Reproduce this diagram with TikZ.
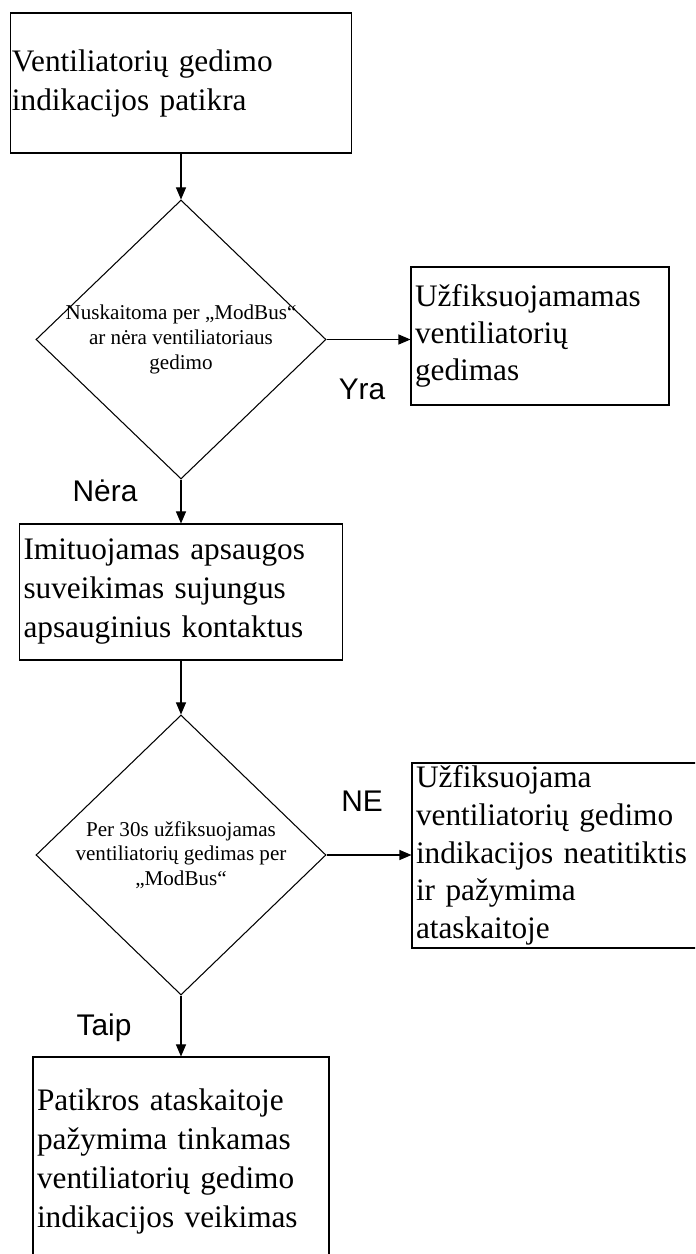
\documentclass[tikz,border=0pt]{standalone}
\usepackage{fontspec}
\setmainfont{Liberation Serif}
\newfontfamily\lsans{Liberation Sans}
\usetikzlibrary{arrows.meta,shapes.geometric}

\begin{document}
\begin{tikzpicture}[>={Triangle[length=0.24cm, width=0.2cm]}, line width=0.6pt,
    box/.style={draw, align=left, inner xsep=0.08cm, inner ysep=0pt,
        font=\fontsize{17.8}{22.2}\selectfont},
    cond/.style={draw, diamond, inner sep=0pt, minimum width=5.8cm, minimum height=5.58cm},
    condtext/.style={align=center, inner sep=0pt, font=\fontsize{12}{14}\selectfont},
    answer/.style={anchor=base, inner sep=0pt, font=\lsans\fontsize{17}{20}\selectfont}]

    % 画布
    \useasboundingbox (0, 0) rectangle (13.9, 25.08);
    \clip (0, 0) rectangle (13.9, 25.08);

    % 开始框
    \node[box, text width=6.76cm, inner xsep=0.03cm, minimum height=2.8cm] (start) at (3.62, 23.42)
        {Ventiliatorių gedimo\\indikacijos patikra};

    % 第一个判断
    \node[cond] (check1) at (3.62, 18.29) {};
    \node[condtext] (check1txt) at (check1) {Nuskaitoma per „ModBus“\\ar nėra ventiliatoriaus\\gedimo};
    \node[box, text width=5cm, minimum height=2.76cm, font=\fontsize{17.8}{21}\selectfont] (fault) at (10.8, 18.36)
        {Užfiksuojamamas\\ventiliatorių\\gedimas};

    % 模拟
    \node[box, text width=6.3cm, minimum height=2.72cm] (imit) at (3.62, 13.24)
        {Imituojamas apsaugos\\suveikimas sujungus\\apsauginius kontaktus};

    % 第二个判断
    \node[cond, minimum height=5.6cm] (check2) at (3.62, 7.98) {};
    \node[condtext] (check2txt) at (check2) {Per 30s užfiksuojamas\\ventiliatorių gedimas per\\„ModBus“};
    \node[box, text width=6cm, minimum height=3.7cm, font=\fontsize{17.8}{21.4}\selectfont] (mismatch) at (11.32, 7.97)
        {Užfiksuojama\\ventiliatorių gedimo\\indikacijos neatitiktis\\ir pažymima\\ataskaitoje};

    % 结果框 (下端在画面外)
    \node[box, text width=5.76cm, minimum height=4.16cm] (report) at (3.62, 1.86)
        {Patikros ataskaitoje\\pažymima tinkamas\\ventiliatorių gedimo\\indikacijos veikimas};

    % 箭头
    \draw[->] (start.south) -- (check1.north);
    \draw[->] (check1.east) -- (check1.east -| fault.west);
    \draw[->] (check1.south) -- (imit.north);
    \draw[->] (imit.south) -- (check2.north);
    \draw[->] (check2.east) -- (check2.east -| mismatch.west);
    \draw[->] (check2.south) -- (report.north);

    % 分支标记
    \node[answer] (yra) at (7.24, 17.08) {Yra};
    \node[answer] (nera) at (2.1, 15.04) {Nėra};
    \node[answer] (ne) at (7.24, 8.84) {NE};
    \node[answer] (taip) at (2.08, 4.36) {Taip};
\end{tikzpicture}
\end{document}
